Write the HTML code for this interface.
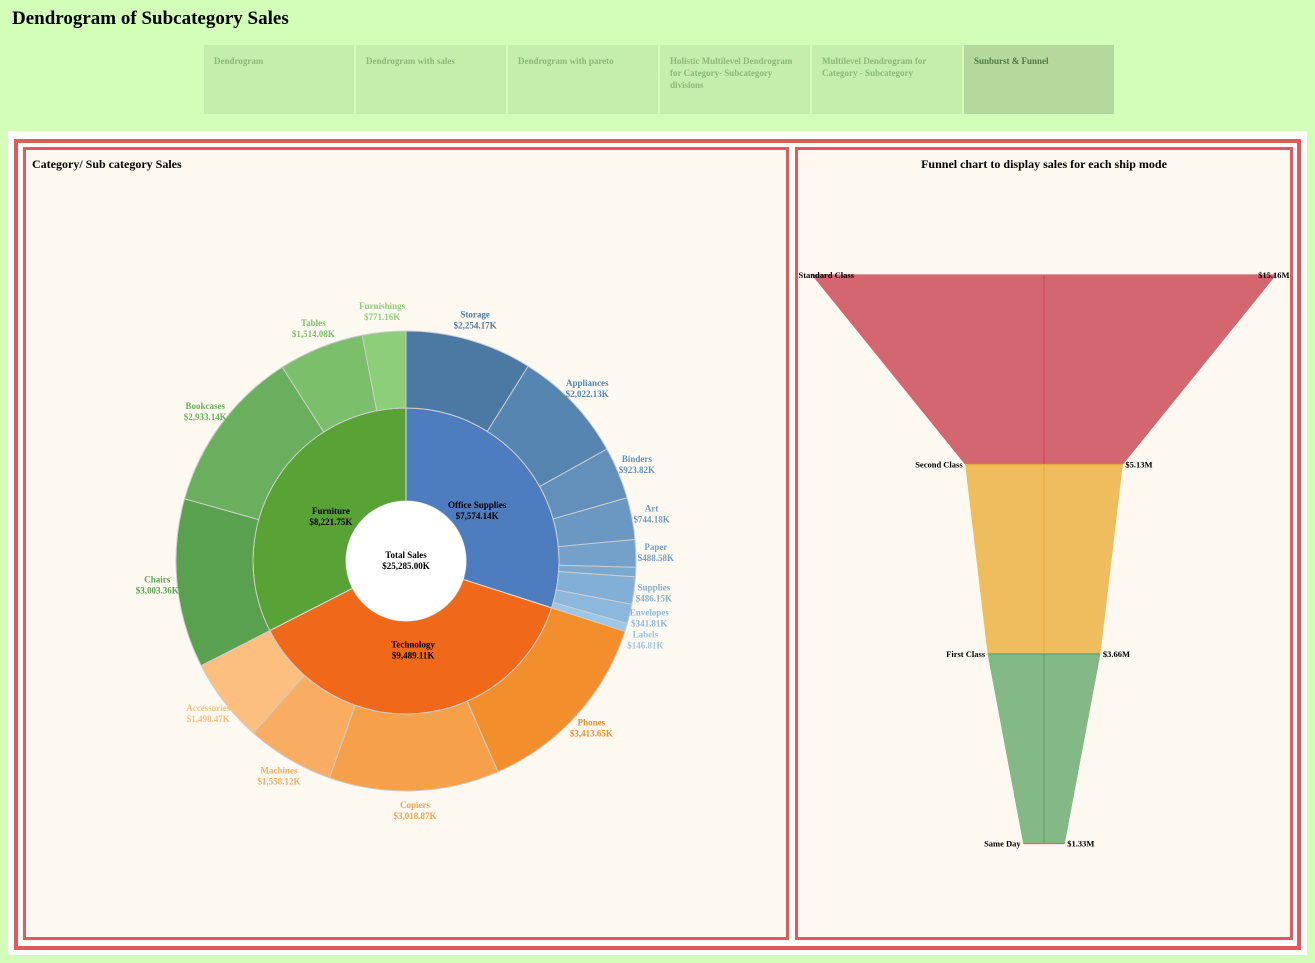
<!DOCTYPE html>
<html><head><meta charset="utf-8"><style>
body{margin:0;width:1315px;height:963px;background:#d3feb8;font-family:"Liberation Serif",serif;position:relative;overflow:hidden}
.abs{position:absolute}
h1{position:absolute;left:12px;top:8px;margin:0;font-size:19px;font-weight:bold}
.tab{position:absolute;top:45px;height:69px;width:150px;background:#c5eeac;color:#8ab97a;font-size:9px;font-weight:bold;box-sizing:border-box;padding:10px 10px;line-height:12px}
</style></head><body>
<h1>Dendrogram of Subcategory Sales</h1>
<div class="tab" style="left:204px">Dendrogram</div>
<div class="tab" style="left:356px">Dendrogram with sales</div>
<div class="tab" style="left:508px">Dendrogram with pareto</div>
<div class="tab" style="left:660px">Holistic Multilevel Dendrogram for Category- Subcategory divisions</div>
<div class="tab" style="left:812px">Multilevel Dendrogram for Category - Subcategory</div>
<div class="tab" style="left:964px;background:#b3da9c;color:#4f7a45">Sunburst &amp; Funnel</div>
<div class="abs" style="left:8px;top:131px;width:1299px;height:824px;background:#fff"></div>
<div class="abs" style="left:14px;top:139px;width:1279px;height:803px;border:4px solid #e05a5a"></div>
<div class="abs" style="left:23px;top:147px;width:760px;height:787px;border:3px solid #e05a5a;background:#fdf8f0"></div>
<div class="abs" style="left:795px;top:147px;width:492px;height:787px;border:3px solid #e05a5a;background:#fdf8f0"></div>
<svg class="abs" style="left:0;top:0" width="1315" height="963" id="svg" font-family="Liberation Serif, serif" font-weight="bold">
<text x="32" y="168" font-size="12">Category/ Sub category Sales</text>
<text x="1044" y="168" font-size="12" text-anchor="middle">Funnel chart to display sales for each ship mode</text>
</svg>
<script>
const categories=["Office Supplies","Technology","Furniture"];
const categoryValues=[7574.14,9489.11,8221.75];
const catColors=["#4e7dbf","#f0681a","#58a236"];
const subcats=[["Storage","Appliances","Binders","Art","Paper","","Supplies","Envelopes","Labels"],["Phones","Copiers","Machines","Accessories"],["Chairs","Bookcases","Tables","Furnishings"]];
const subValues=[[2254.17,2022.13,923.82,744.18,488.58,166.49,486.15,341.81,146.81],[3413.65,3018.87,1558.12,1498.47],[3003.36,2933.14,1514.08,771.16]];
const subColors=[["#4c78a4","#5585b0","#6390bb","#6b98c2","#73a1ca","#7aa8d0","#82afd6","#8cb8de","#9cc7e9"],["#f28e2b","#f6a04a","#f8ad62","#fdbf80"],["#59a14f","#6aaf5d","#7bbf6a","#8ccf78"]];
const shipModes=["Standard Class","Second Class","First Class","Same Day"];
const shipValues=[15.16,5.13,3.66,1.33];
const shipColors=["#d3666e","#efbd5e","#82b986"];
const shipLineColors=["#c8424f","#e8a93a","#5f9f66"];
const svg=document.getElementById('svg');
const NS="http://www.w3.org/2000/svg";
function mk(t,a){const e=document.createElementNS(NS,t);for(const k in a)e.setAttribute(k,a[k]);svg.appendChild(e);return e;}
const cx=406,cy=561,r0=60,r1=153,r2=230,rl=250;
const total=categoryValues.reduce((a,b)=>a+b,0);
function ang(v){return v/total*2*Math.PI;}
function pt(r,a){return [cx+r*Math.sin(a),cy-r*Math.cos(a)];}
function arc(ri,ro,a0,a1){const l=a1-a0>Math.PI?1:0;const p0=pt(ro,a0),p1=pt(ro,a1),p2=pt(ri,a1),p3=pt(ri,a0);
return `M${p0}A${ro},${ro} 0 ${l} 1 ${p1}L${p2}A${ri},${ri} 0 ${l} 0 ${p3}Z`;}
function label(x,y,l1,l2,col,size){const t=mk('text',{x:x,y:y,'font-size':size,'text-anchor':'middle',fill:col});
const a=document.createElementNS(NS,'tspan');a.setAttribute('x',x);a.textContent=l1;t.appendChild(a);
const b=document.createElementNS(NS,'tspan');b.setAttribute('x',x);b.setAttribute('dy','11');b.textContent=l2;t.appendChild(b);return t;}
function fmt(v){return '$'+v.toLocaleString('en-US',{minimumFractionDigits:2,maximumFractionDigits:2})+'K';}
let a=0;
const catLabels=[];
let prevRightY=-1000;
categories.forEach((c,i)=>{
  const a0=a,a1=a+ang(categoryValues[i]);
  const p=mk('path',{d:arc(r0,r1,a0,a1),fill:catColors[i],stroke:'#ddd','stroke-width':1});
  
  
  catLabels.push([c,(a0+a1)/2,categoryValues[i]]);
  let b=a0;
  subcats[i].forEach((s,j)=>{
    const b1=b+ang(subValues[i][j]);
    const sp=mk('path',{d:arc(r1,r2,b,b1),fill:subColors[i][j],stroke:'#ccc','stroke-width':1});
    
    
    if(s){const mm=(b+b1)/2;const lp=pt(rl,mm);let ly=lp[1]-3;
      if(i===0){if(ly<prevRightY+22)ly=prevRightY+22;prevRightY=ly;}
      const lt=label(lp[0],ly,s,fmt(subValues[i][j]),subColors[i][j],9);
      
      }
    b=b1;});
  a=a1;});
catLabels.forEach(([c,m,v])=>{
  const q=pt(88,m);
  const t=label(q[0],q[1]-1,c,fmt(v),'#000',9);
  
  
});
const hole=mk('circle',{cx:cx,cy:cy,r:r0,fill:'#fff'});


const ct=label(cx,cy-3,'Total Sales','$'+total.toLocaleString('en-US',{minimumFractionDigits:2,maximumFractionDigits:2})+'K','#000',9);


// funnel
const fx=1044,fy0=275,fstep=189.5,maxHalf=231.5,maxV=shipValues[0];
function hw(v){return v/maxV*maxHalf;}
for(let i=0;i<shipValues.length-1;i++){
  const y0=fy0+i*fstep,y1=y0+fstep,h0=hw(shipValues[i]),h1=hw(shipValues[i+1]);
  const pg=mk('polygon',{points:`${fx-h0},${y0} ${fx+h0},${y0} ${fx+h1},${y1} ${fx-h1},${y1}`,fill:shipColors[i],stroke:shipColors[i]});
  
  
  const ln=mk('line',{x1:fx,y1:y0,x2:fx,y2:y1,stroke:shipLineColors[i],'stroke-width':1.2,opacity:0.8});
  
  
}
shipValues.forEach((v,i)=>{
  const y=fy0+i*fstep,h=hw(v);
  const bl=mk('line',{x1:fx-h,y1:y,x2:fx+h,y2:y,stroke:i==0?'#d3666e':(i==3?'#d9713a':shipLineColors[i]),'stroke-width':1.2});
  
  
  const t1=mk('text',{x:i==0?fx-h-14:fx-h-3,y:y+3,'font-size':8.5,'text-anchor':i==0?'start':'end'});
  t1.textContent=shipModes[i];
  
  
  const t2=mk('text',{x:i==0?fx+h+14:fx+h+3,y:y+3,'font-size':8.5,'text-anchor':i==0?'end':'start'});
  t2.textContent='$'+v.toFixed(2)+'M';
  
  
});
</script>
</body></html>
